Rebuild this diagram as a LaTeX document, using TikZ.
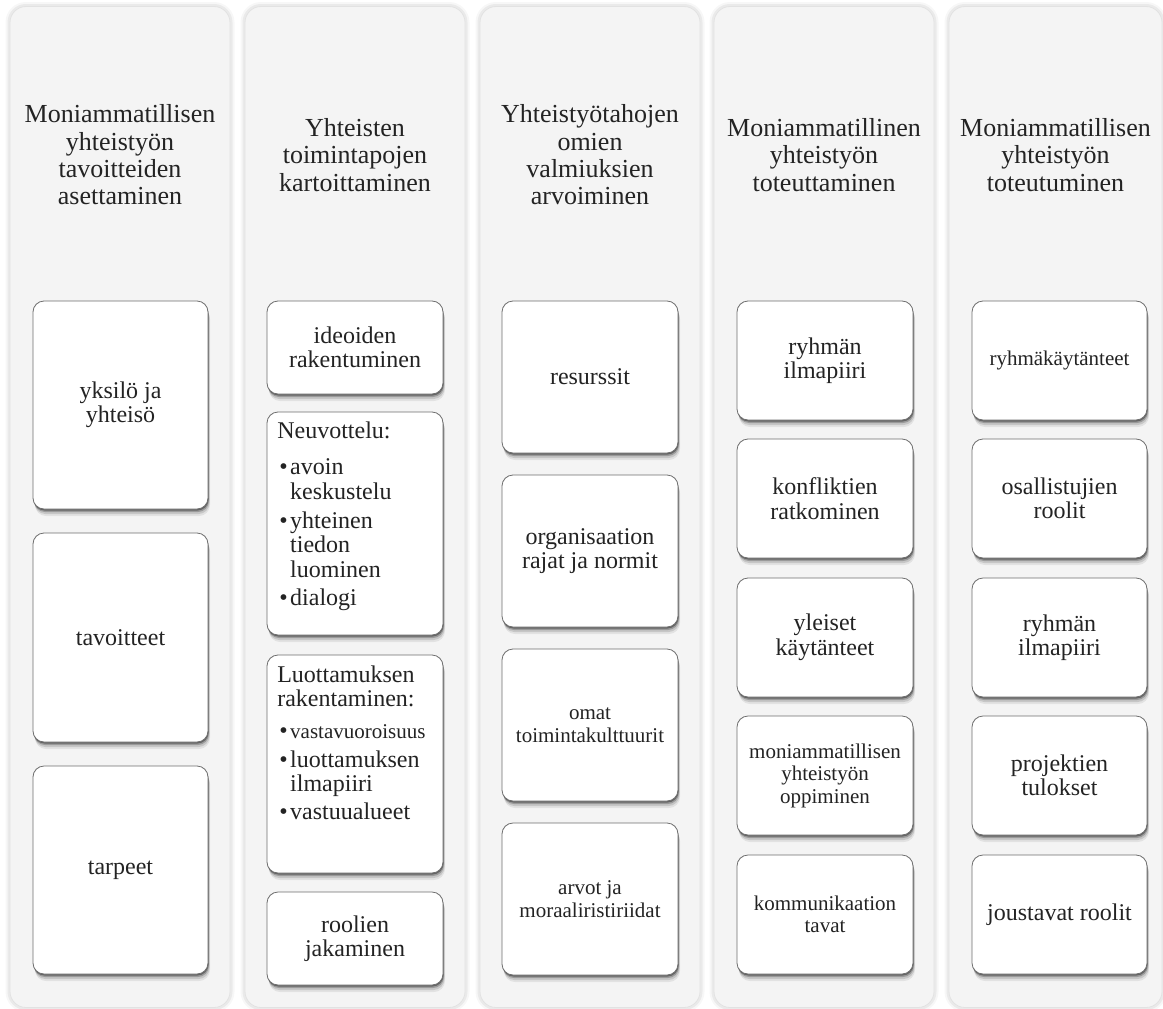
\documentclass[tikz,border=0pt]{standalone}
\usepackage{fontspec}
\setmainfont{Liberation Serif}
\usetikzlibrary{shadows}

\definecolor{colbg}{RGB}{244,244,244}
\definecolor{colline}{RGB}{226,226,226}
\definecolor{cardline}{RGB}{110,110,110}
\definecolor{ink}{RGB}{35,35,35}

\tikzset{
  column/.style={fill=colbg, draw=colline, line width=0.8pt, rounded corners=16pt,
    preaction={draw=black, line width=9pt, opacity=0.03},
    preaction={draw=black, line width=5pt, opacity=0.05}},
  head/.style={align=center, text=ink, inner sep=0pt,
    font=\fontsize{26}{27.3}\selectfont},
  card/.style={fill=white, draw=cardline, line width=0.8pt, rounded corners=11pt,
    inner sep=0pt, align=center, text=ink, font=\fontsize{24}{24.5}\selectfont,
    drop shadow={shadow xshift=2pt, shadow yshift=-7pt, opacity=0.07, fill=black},
    drop shadow={shadow xshift=1.5pt, shadow yshift=-5pt, opacity=0.12, fill=black},
    drop shadow={shadow xshift=1pt, shadow yshift=-3pt, opacity=0.22, fill=black},
    drop shadow={shadow xshift=0.5pt, shadow yshift=-1.5pt, opacity=0.35, fill=black}},
  wide/.style={minimum width=175pt},
  small/.style={font=\fontsize{21}{22.5}\selectfont},
  list/.style={anchor=north west, inner sep=0pt, align=left, text=ink,
    font=\fontsize{24}{24.5}\selectfont}
}
\newcommand{\itemdot}{\hspace{2pt}\textbullet}

\begin{document}
\begin{tikzpicture}[x=1pt,y=-1pt]
\useasboundingbox (0,0) rectangle (1163,1009);

% five columns
\node[column, minimum width=220pt, minimum height=1001pt] (col1) at (120,507) {};
\node[column, minimum width=220pt, minimum height=1001pt] (col2) at (355,507) {};
\node[column, minimum width=220pt, minimum height=1001pt] (col3) at (590,507) {};
\node[column, minimum width=220pt, minimum height=1001pt] (col4) at (824,507) {};
\node[column, minimum width=213pt, minimum height=1001pt] (col5) at (1055.5,507) {};

% column headings
\node[head] (h1) at (120,155) {Moniammatillisen\\yhteistyön\\tavoitteiden\\asettaminen};
\node[head] (h2) at (355,155) {Yhteisten\\toimintapojen\\kartoittaminen};
\node[head] (h3) at (590,155) {Yhteistyötahojen\\omien\\valmiuksien\\arvoiminen};
\node[head] (h4) at (824,155) {Moniammatillinen\\yhteistyön\\toteuttaminen};
\node[head] (h5) at (1055.5,155) {Moniammatillisen\\yhteistyön\\toteutuminen};

% column 1
\node[card, wide, minimum height=208pt] (a1) at (120.5,405) {yksilö ja\\yhteisö};
\node[card, wide, minimum height=209pt] (a2) at (120.5,637.5) {tavoitteet};
\node[card, wide, minimum height=208pt] (a3) at (120.5,870) {tarpeet};

% column 2
\node[card, minimum width=176pt, minimum height=93pt] (b1) at (355,347.5) {ideoiden\\rakentuminen};
\node[card, minimum width=176pt, minimum height=223pt] (b2) at (355,523.5) {};
\node[card, minimum width=176pt, minimum height=218pt] (b3) at (355,764) {};
\node[card, minimum width=176pt, minimum height=93pt] (b4) at (355,938.5) {roolien\\jakaminen};

\node[list] (b2t) at ([xshift=10.5pt,yshift=-10pt]b2.north west) {%
  \begin{tabular}{@{}l@{\hspace{2.5pt}}l@{}}
  \multicolumn{2}{@{}l}{Neuvottelu:}\\[11.5pt]
  \itemdot & avoin\\
   & keskustelu\\[4.5pt]
  \itemdot & yhteinen\\
   & tiedon\\
   & luominen\\[3.5pt]
  \itemdot & dialogi
  \end{tabular}};

\node[list] (b3t) at ([xshift=10.5pt,yshift=-10.5pt]b3.north west) {%
  \begin{tabular}{@{}l@{\hspace{2.5pt}}l@{}}
  \multicolumn{2}{@{}l}{Luottamuksen}\\
  \multicolumn{2}{@{}l}{rakentaminen:}\\[7pt]
  \itemdot & {\fontsize{21}{22}\selectfont vastavuoroisuus}\\[4.5pt]
  \itemdot & luottamuksen\\
   & ilmapiiri\\[3.5pt]
  \itemdot & vastuualueet
  \end{tabular}};

% column 3
\node[card, minimum width=176pt, minimum height=152pt] (c1) at (590,377) {resurssit};
\node[card, minimum width=176pt, minimum height=152pt] (c2) at (590,551) {organisaation\\rajat ja normit};
\node[card, small, minimum width=176pt, minimum height=152pt] (c3) at (590,725) {omat\\toimintakulttuurit};
\node[card, small, minimum width=176pt, minimum height=152pt] (c4) at (590,899) {arvot ja\\moraaliristiriidat};

% column 4
\node[card, minimum width=176pt, minimum height=119pt] (d1) at (825,360.5) {ryhmän\\ilmapiiri};
\node[card, minimum width=176pt, minimum height=119pt] (d2) at (825,498.5) {konfliktien\\ratkominen};
\node[card, minimum width=176pt, minimum height=119pt] (d3) at (825,637.5) {yleiset\\käytänteet};
\node[card, small, minimum width=176pt, minimum height=119pt] (d4) at (825,775.5) {moniammatillisen\\yhteistyön\\oppiminen};
\node[card, small, minimum width=176pt, minimum height=119pt] (d5) at (825,914.5) {kommunikaation\\tavat};

% column 5
\node[card, small, wide, minimum height=119pt] (e1) at (1059.5,360.5) {ryhmäkäytänteet};
\node[card, wide, minimum height=119pt] (e2) at (1059.5,498.5) {osallistujien\\roolit};
\node[card, wide, minimum height=119pt] (e3) at (1059.5,637.5) {ryhmän\\ilmapiiri};
\node[card, wide, minimum height=119pt] (e4) at (1059.5,775.5) {projektien\\tulokset};
\node[card, wide, minimum height=119pt] (e5) at (1059.5,914.5) {joustavat roolit};
\end{tikzpicture}
\end{document}
